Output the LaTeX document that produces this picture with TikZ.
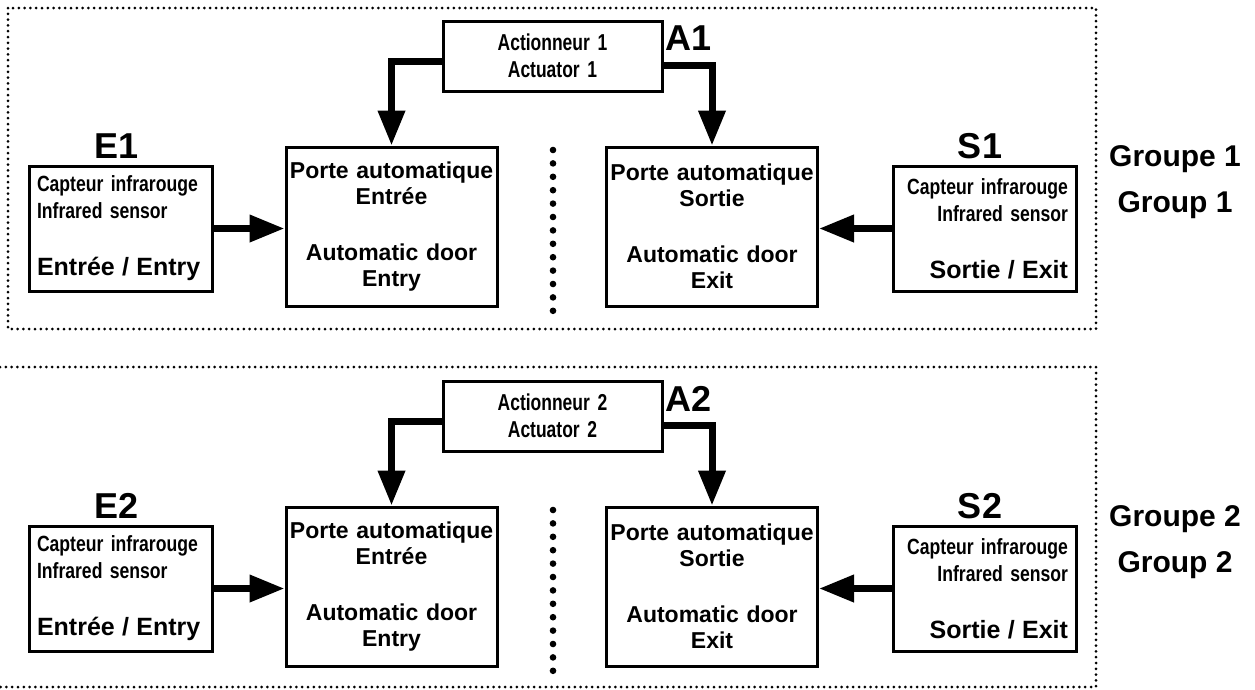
\documentclass[tikz,border=0pt]{standalone}
\usepackage{fontspec}
\setmainfont{Liberation Sans}
\newfontfamily\narrowfont{Liberation Sans}[FakeStretch=0.80,WordSpace=0.75]
\newfontfamily\actfont{Liberation Sans}[FakeStretch=0.76,WordSpace=0.7]
\usetikzlibrary{arrows.meta}
\hyphenpenalty=10000

\begin{document}
\begin{tikzpicture}[x=1pt,y=-1pt,
	box/.style={draw,line width=3pt},
	sensor/.style={box,minimum height=125pt,text width=167pt,inner xsep=8pt,font=\bfseries\fontsize{22}{27}\selectfont},
	door/.style={box,minimum height=159pt,text width=205pt,inner xsep=3pt,align=center,font=\bfseries\fontsize{23}{26}\selectfont},
	actbox/.style={box,minimum height=70pt,text width=203pt,inner xsep=8pt,align=center,font=\actfont\bfseries\fontsize{23}{27}\selectfont},
	tag/.style={font=\bfseries\fontsize{36}{40}\selectfont,inner sep=0pt},
	bigarrow/.style={line width=7pt,-{Triangle[length=35pt,width=26pt]}},
	groupline/.style={line width=3pt,line cap=round,dash pattern=on 0pt off 5.8pt},
	]

	\useasboundingbox (0,0) rectangle (1255,689);

	\foreach \g/\dy in {1/0,2/360} {
	\begin{scope}[shift={(0,\dy)}]

	% sensors
	\node[sensor,align=left] (e\g) at (120.5,228.5) {{\narrowfont Capteur infrarouge\\Infrared sensor}\\[30pt]{\fontsize{25}{30}\selectfont Entr\'ee / Entry}};
	\node[sensor,align=right] (s\g) at (984.5,228.5) {{\narrowfont Capteur infrarouge\\Infrared sensor}\\[30pt]{\fontsize{25}{30}\selectfont Sortie / Exit}};
	\node[tag] (te\g) at (117,146) {E\g};
	\node[tag] (ts\g) at (980,146) {S\g};

	% doors
	\node[door] (pe\g) at (391.5,226.5) {Porte automatique\\Entr\'ee\\[30pt]Automatic door\\Entry};
	\node[door] (ps\g) at (712,226.5) {Porte automatique\\Sortie\\[30pt]Automatic door\\Exit};

	% actuator
	\node[actbox] (a\g) at (552.5,56) {Actionneur \g\\Actuator \g};
	\node[tag] (ta\g) at (689,38.5) {A\g};

	% arrows
	\draw[bigarrow] (e\g.east) -- (e\g.east -| pe\g.west);
	\draw[bigarrow] (s\g.west) -- (s\g.west -| ps\g.east);
	\draw[bigarrow] ([yshift=-5pt]a\g.west) -| (pe\g.north);
	\draw[bigarrow] ([yshift=-9pt]a\g.east) -| (ps\g.north);

	% separator
	\foreach \k in {0,...,12}
		\fill (553,150+\k*13.4) circle[radius=3.3pt];

	% group name
	\node[align=center,font=\bfseries\fontsize{30}{46}\selectfont] (g\g) at (1175,182) {Groupe \g\\Group \g};

	\end{scope}
	}

	% group frames
	\draw[groupline] (8,8) rectangle (1096,329);
	\draw[groupline] (0,367) -- (1096,367) -- (1096,687) -- (0,687);

\end{tikzpicture}
\end{document}
